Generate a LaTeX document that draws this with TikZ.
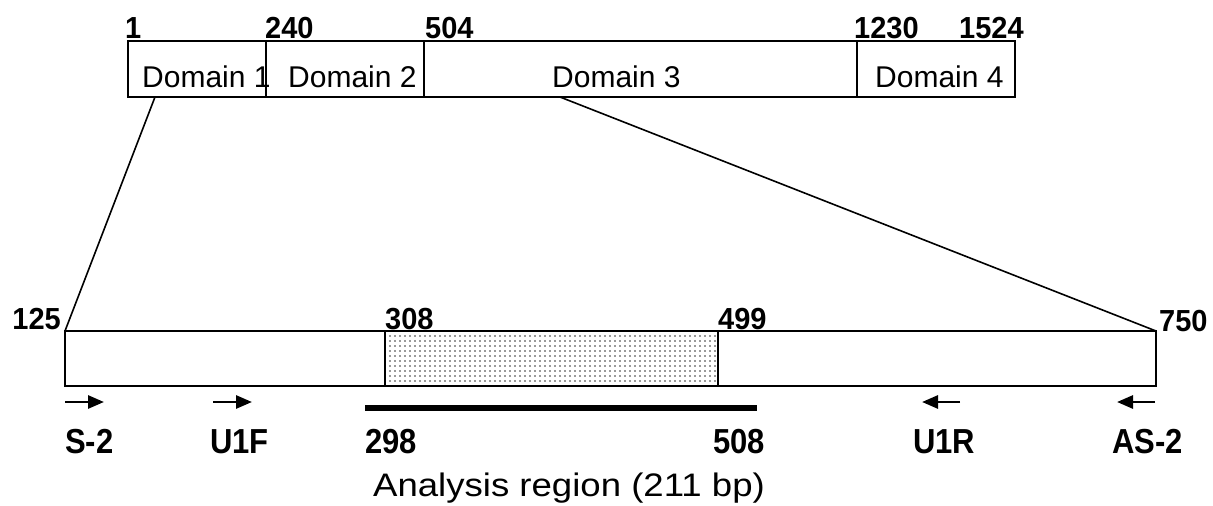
\documentclass[tikz,border=0pt]{standalone}
\usepackage{fontspec}
\setmainfont{Liberation Sans}
\usetikzlibrary{patterns.meta,arrows.meta}
\begin{document}
\begin{tikzpicture}[x=1pt,y=-1pt,
  num/.style={font=\fontsize{29}{32}\selectfont\bfseries, anchor=base west, inner sep=0pt, yscale=1.05},
  dom/.style={font=\fontsize{30}{34}\selectfont, anchor=base west, inner sep=0pt},
  lab/.style={font=\fontsize{31}{34}\selectfont\bfseries, anchor=base west, inner sep=0pt, yscale=1.12},
  boxline/.style={draw=black, line width=1.8pt},
  primer/.style={line width=2.8pt, -{Triangle[length=16pt,width=13pt]}},
]
\useasboundingbox (0,0) rectangle (1213,506);
% top box
\coordinate (t1) at (128,41);
\coordinate (t2) at (266,41);
\coordinate (t3) at (424,41);
\coordinate (t4) at (857,41);
\coordinate (t5) at (1015,97);
\node[dom] (d1) at (142,87) {Domain 1};
\node[dom] (d2) at (288,87) {Domain 2};
\node[dom] (d3) at (552,87) {Domain 3};
\node[dom] (d4) at (875,87) {Domain 4};
\draw[boxline] (t1) rectangle (t5);
\draw[boxline] (t2) -- (t2 |- t5);
\draw[boxline] (t3) -- (t3 |- t5);
\draw[boxline] (t4) -- (t4 |- t5);
\node[num] (n1) at (125,38) {1};
\node[num] (n240) at (265,38) {240};
\node[num] (n504) at (425,38) {504};
\node[num] (n1230) at (854,38) {1230};
\node[num] (n1524) at (959,38) {1524};
% bottom box
\coordinate (b1) at (65,331);
\coordinate (b2) at (1156,386);
\coordinate (s1) at (385,331);
\coordinate (s2) at (718,386);
\fill[white] (b1) rectangle (b2);
\path[pattern={Dots[distance=5pt,radius=0.9pt]}, pattern color=black!80] (s1) rectangle (s2);
\draw[boxline, line width=2.4pt] (b1) rectangle (b2);
\draw[boxline, line width=2pt] (s1) rectangle (s2);
\node[num, anchor=base east] (n125) at (61,329) {125};
\node[num] (n308) at (385,329) {308};
\node[num] (n499) at (718,329) {499};
\node[num] (n750) at (1159,331) {750};
% zoom lines
\coordinate (z1) at (155,97);
\coordinate (z2) at (560,97);
\draw[line width=1.6pt] (z1) -- (b1);
\draw[line width=1.6pt] (z2) -- (b2 |- b1);
% primers
\coordinate (pa1) at (65,402); \coordinate (pa2) at (104,402);
\coordinate (pb1) at (213,402); \coordinate (pb2) at (252,402);
\coordinate (pc1) at (960,402); \coordinate (pc2) at (922,402);
\coordinate (pd1) at (1155,402); \coordinate (pd2) at (1117,402);
\draw[primer] (pa1) -- (pa2);
\draw[primer] (pb1) -- (pb2);
\draw[primer] (pc1) -- (pc2);
\draw[primer] (pd1) -- (pd2);
% analysis bar
\coordinate (r1) at (365,408);
\coordinate (r2) at (757,408);
\draw[line width=6.5pt] (r1) -- (r2);
% labels
\node[lab] (s2l) at (65,453) {S-2};
\node[lab] (u1f) at (210,453) {U1F};
\node[lab] (l298) at (365,453) {298};
\node[lab] (l508) at (713,453) {508};
\node[lab] (u1r) at (913,453) {U1R};
\node[lab] (as2) at (1112,453) {AS-2};
\node[font=\fontsize{31}{34}\selectfont, anchor=base, inner sep=0pt, xscale=1.18, yscale=1.05] (ar) at (569,496) {Analysis region (211 bp)};
\end{tikzpicture}
\end{document}
